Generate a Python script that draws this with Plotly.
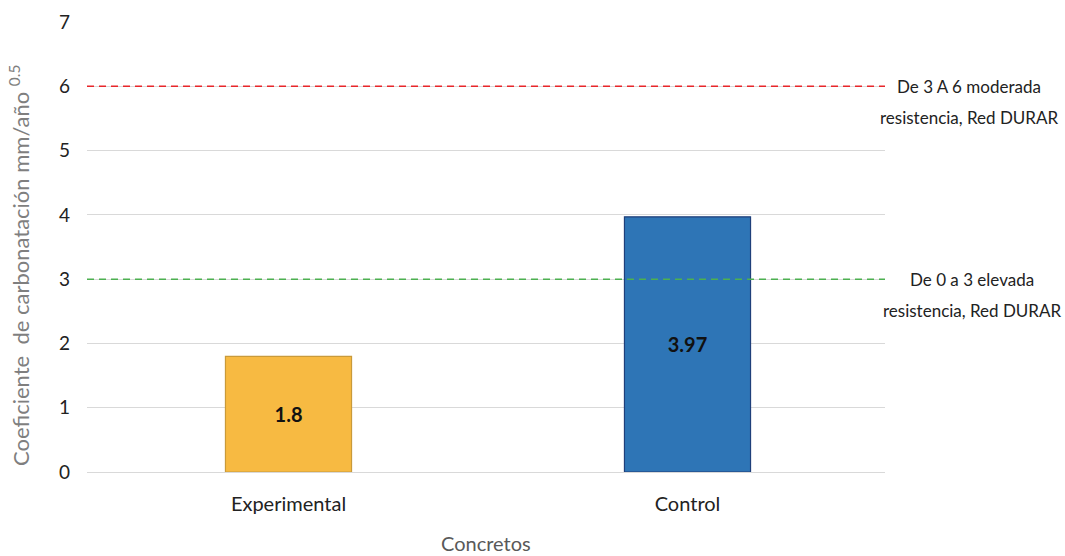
import plotly.graph_objects as go

# Concrete categories and measured carbonation coefficients
categories = ["Experimental", "Control"]
values = [1.8, 3.97]
bar_colors = ["#F7BA42", "#2E75B6"]
bar_edges = ["#C99A3A", "#1F3F7A"]

# Red DURAR reference thresholds
threshold_values = [6, 3]
threshold_colors = ["#E8262A", "#4CB050"]
threshold_first_lines = ["De 3 A 6 moderada", "De 0 a 3 elevada"]
threshold_second_lines = ["resistencia, Red DURAR", "resistencia, Red DURAR"]

y_ticks = [0, 1, 2, 3, 4, 5, 6, 7]
y_title = "Coeficiente  de carbonatación mm/año <sup>0.5</sup>"
x_title = "Concretos"

FONT = "Lato"

fig = go.Figure()
fig.add_trace(go.Bar(
    x=categories,
    y=values,
    width=0.316,
    marker=dict(color=bar_colors, line=dict(color=bar_edges, width=1.2)),
    text=[str(v) for v in values],
    textposition="inside",
    insidetextanchor="middle",
    textfont=dict(family=FONT, size=20, color="#111111", weight="bold"),
    showlegend=False,
    hoverinfo="skip",
))

for val, col in zip(threshold_values, threshold_colors):
    fig.add_shape(
        type="line", xref="paper", yref="y",
        x0=0, x1=1, y0=val, y1=val,
        line=dict(color=col, width=1.5, dash="7px,5px"),
        layer="above",
    )

# Two-line labels to the right of the threshold lines
label_centers = [969, 972]
for val, first, second, cx in zip(threshold_values, threshold_first_lines,
                                  threshold_second_lines, label_centers):
    fig.add_annotation(
        xref="paper", yref="y", x=1.0, y=val,
        xanchor="center", yanchor="middle", xshift=cx - 885, yshift=0,
        text=first, showarrow=False,
        font=dict(family=FONT, size=17, color="#222222"),
    )
    fig.add_annotation(
        xref="paper", yref="y", x=1.0, y=val,
        xanchor="center", yanchor="middle", xshift=cx - 885, yshift=-31,
        text=second, showarrow=False,
        font=dict(family=FONT, size=17, color="#222222"),
    )

# Rotated y-axis title
fig.add_annotation(
    xref="paper", yref="paper", x=0, y=0.458,
    xanchor="center", yanchor="middle", xshift=-67,
    text=y_title, textangle=-90, showarrow=False,
    font=dict(family=FONT, size=22, color="#7F7F7F"),
)

# x-axis title
fig.add_annotation(
    xref="paper", yref="paper", x=0.5, y=0,
    xanchor="center", yanchor="middle", yshift=-71,
    text=x_title, showarrow=False,
    font=dict(family=FONT, size=20, color="#595959"),
)

fig.update_layout(
    width=1065, height=556,
    margin=dict(l=87, r=180, t=22, b=84),
    paper_bgcolor="white",
    plot_bgcolor="white",
    font=dict(family=FONT),
    bargap=0.684,
    xaxis=dict(
        range=[-0.505, 1.495],
        showline=False, showgrid=False, zeroline=False, automargin=False,
        tickfont=dict(family=FONT, size=20, color="#222222"),
        ticks="", ticklabelstandoff=18,
    ),
    yaxis=dict(
        range=[0, 7], tickvals=y_ticks, automargin=False,
        showgrid=True, gridcolor="#D9D9D9", gridwidth=1.2,
        zeroline=True, zerolinecolor="#D9D9D9", zerolinewidth=1.2,
        showline=False, ticks="",
        tickfont=dict(family=FONT, size=19, color="#222222"),
        ticklabelstandoff=16,
    ),
)

fig.write_html("out.html")
